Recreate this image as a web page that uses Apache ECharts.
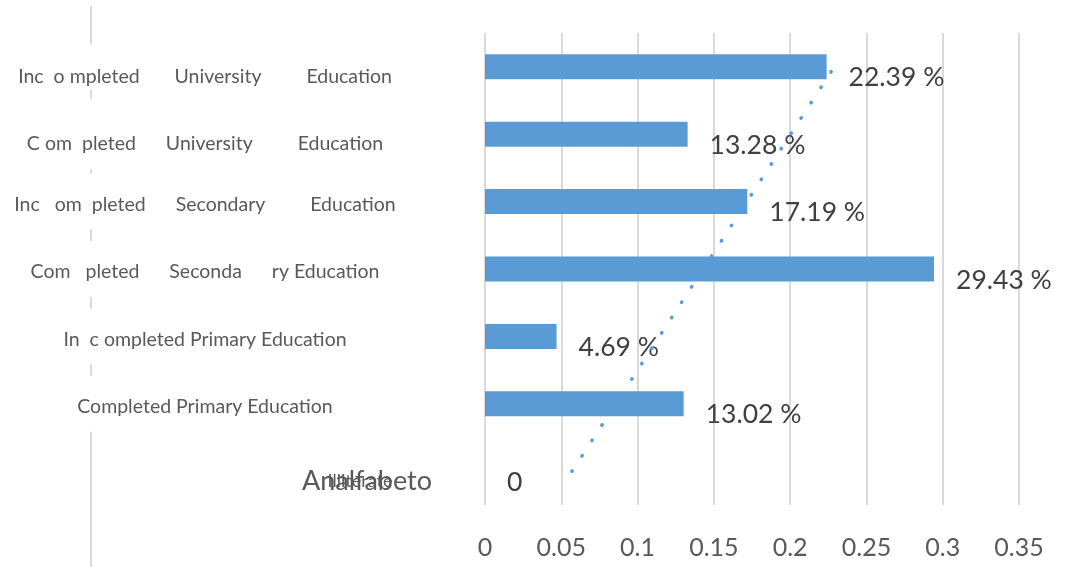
<!DOCTYPE html>
<html>
<head>
<meta charset="utf-8">
<script src="https://cdn.jsdelivr.net/npm/echarts@6/dist/echarts.min.js"></script>
<style>
  html, body { margin: 0; padding: 0; background: #fff; }
  #chart { width: 1084px; height: 567px; }
</style>
</head>
<body>
<div id="chart"></div>
<script>
// Education levels, bottom row first
const categories = [
  'Illiterate',
  'Completed Primary Education',
  'Incompleted Primary Education',
  'Completed Secondary Education',
  'Incompleted Secondary Education',
  'Completed University Education',
  'Incompleted University Education'
];
// Category text as it is printed beside each row
const categoryText = [
  'Illiterate',
  'Completed Primary Education',
  'In  c ompleted Primary Education',
  'Com   pleted      Seconda      ry Education',
  'Inc   om  pleted      Secondary         Education',
  'C om  pleted      University         Education',
  'Inc  o mpleted       University         Education'
];
// Second-language label shown on the bottom row only
const altText = ['Analfabeto', '', '', '', '', '', ''];
// Share of respondents per level (fraction)
const shares = [0, 0.1302, 0.0469, 0.2943, 0.1719, 0.1328, 0.2239];
// Linear trend, value at the bottom row and at the top row
const trendEnds = [0.057, 0.229];
// Value-axis ticks
const xTicks = ['0', '0.05', '0.1', '0.15', '0.2', '0.25', '0.3', '0.35'];

const BLUE = '#5b9bd5';
const FONT = 'Lato';
const CAT_SIZE = 19.5;

// rich style per row (index matches categories)
const rowStyle = ['ill', 'm', 'm', 'm', 'm', 'c', 'b'];

const chart = echarts.init(document.getElementById('chart'), null, { renderer: 'canvas' });

chart.setOption({
  backgroundColor: '#fff',
  animation: false,
  graphic: [{
    type: 'line',
    z: -1,
    shape: { x1: 91, y1: 6, x2: 91, y2: 567 },
    style: { stroke: '#d9d9d9', lineWidth: 2 }
  }],
  grid: { left: 485, right: 65, top: 33, bottom: 62, containLabel: false },
  xAxis: {
    type: 'value',
    min: 0,
    max: 0.35,
    interval: 0.05,
    axisLine: { show: false },
    axisTick: { show: false },
    splitLine: { show: true, lineStyle: { color: '#d9d9d9', width: 2 } },
    axisLabel: {
      margin: 30,
      fontFamily: FONT,
      fontSize: 25,
      color: '#595959',
      formatter: (v) => xTicks[Math.round(v / 0.05)]
    }
  },
  yAxis: [{
    type: 'category',
    data: categories,
    axisLine: { show: false },
    axisTick: { show: false },
    splitLine: { show: false },
    axisLabel: {
      margin: 280,
      align: 'center',
      fontFamily: FONT,
      fontSize: CAT_SIZE,
      color: '#595959',
      formatter: (v, i) => '{' + rowStyle[i] + '|' + categoryText[i] + '}',
      rich: {
        m: { fontFamily: FONT, fontSize: CAT_SIZE, color: '#595959', lineHeight: 22,
             backgroundColor: '#fff', padding: [21, 4, 15, 4] },
        b: { fontFamily: FONT, fontSize: CAT_SIZE, color: '#595959', lineHeight: 22,
             backgroundColor: '#fff', padding: [23, 4, 3, 4] },
        c: { fontFamily: FONT, fontSize: CAT_SIZE, color: '#595959', lineHeight: 22,
             backgroundColor: '#fff', padding: [35, 4, 15, 4] },
        ill: { fontFamily: FONT, fontSize: 18, color: '#595959', lineHeight: 22,
               padding: [20, 0, 0, 310] }
      }
    }
  }, {
    type: 'category',
    data: categories,
    position: 'left',
    axisLine: { show: false },
    axisTick: { show: false },
    splitLine: { show: false },
    axisLabel: {
      margin: 118,
      align: 'center',
      formatter: (v, i) => altText[i] ? '{a|' + altText[i] + '}' : '',
      rich: {
        a: { fontFamily: FONT, fontSize: 27, color: '#595959', lineHeight: 28, padding: [20, 0, 0, 0] }
      }
    }
  }],
  series: [{
    type: 'bar',
    yAxisIndex: 0,
    data: shares,
    barWidth: 25,
    itemStyle: { color: BLUE },
    label: {
      show: true,
      position: 'right',
      distance: 22,
      offset: [0, 11],
      fontFamily: FONT,
      fontSize: 26.5,
      color: '#404040',
      formatter: (p) => p.value === 0 ? '0' : (p.value * 100).toFixed(2) + ' %'
    },
    z: 2
  }, {
    type: 'line',
    yAxisIndex: 0,
    data: [[trendEnds[0], categories[0]], [trendEnds[1], categories[categories.length - 1]]],
    showSymbol: false,
    symbol: 'none',
    silent: true,
    lineStyle: { color: BLUE, width: 3.5, type: [0.5, 17.8], cap: 'round' },
    z: 5
  }]
});
</script>
</body>
</html>
